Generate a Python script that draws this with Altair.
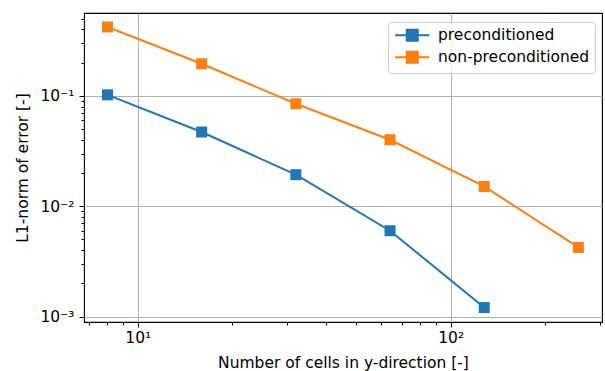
import altair as alt
import pandas as pd

cells = [8, 16, 32, 64, 128, 256]
preconditioned = [0.102, 0.047, 0.0193, 0.0060, 0.00121, None]
non_preconditioned = [0.42, 0.195, 0.0847, 0.0400, 0.0151, 0.00424]
series_names = ["preconditioned", "non-preconditioned"]
colors = ["#1f77b4", "#ff7f0e"]

x_ticks = [7, 8, 9, 10, 20, 30, 40, 50, 60, 70, 80, 90, 100, 200, 300]
y_ticks = [0.001, 0.002, 0.003, 0.004, 0.005, 0.006, 0.007, 0.008, 0.009,
           0.01, 0.02, 0.03, 0.04, 0.05, 0.06, 0.07, 0.08, 0.09,
           0.1, 0.2, 0.3, 0.4, 0.5]

rows = []
for name, vals in zip(series_names, [preconditioned, non_preconditioned]):
    for c, v in zip(cells, vals):
        if v is not None:
            rows.append({"cells": c, "error": v, "series": name})
df = pd.DataFrame(rows)

FONT = "DejaVu Sans"
FS = 15.5
major_test = "abs(log(datum.value)/LN10 - round(log(datum.value)/LN10)) < 1e-6"

x_enc = alt.X(
    "cells:Q",
    scale=alt.Scale(type="log", domain=[6.73, 304.6], nice=False, zero=False),
    axis=alt.Axis(
        title="Number of cells in y-direction [-]",
        values=x_ticks,
        labelExpr="datum.value == 10 ? '10¹' : datum.value == 100 ? '10²' : ''",
        tickSize={"condition": {"test": major_test, "value": 5}, "value": 3},
        gridOpacity={"condition": {"test": major_test, "value": 1}, "value": 0},
        gridColor="#b0b0b0",
        gridWidth=1,
        domain=False,
        tickColor="black",
        labelFont=FONT, labelFontSize=FS, labelColor="black", labelPadding=3,
        titleFont=FONT, titleFontSize=FS, titleFontWeight="normal", titleColor="black",
        titlePadding=10,
        labelFlush=False,
    ),
)
y_enc = alt.Y(
    "error:Q",
    scale=alt.Scale(type="log", domain=[0.000895, 0.562], nice=False, zero=False),
    axis=alt.Axis(
        title="L1-norm of error [-]",
        values=y_ticks,
        labelExpr="datum.value == 0.1 ? '10⁻¹' : datum.value == 0.01 ? '10⁻²' : datum.value == 0.001 ? '10⁻³' : ''",
        tickSize={"condition": {"test": major_test, "value": 5}, "value": 3},
        gridOpacity={"condition": {"test": major_test, "value": 1}, "value": 0},
        gridColor="#b0b0b0",
        gridWidth=1,
        domain=False,
        tickColor="black",
        labelFont=FONT, labelFontSize=FS, labelColor="black", labelPadding=5,
        titleFont=FONT, titleFontSize=FS, titleFontWeight="normal", titleColor="black",
        titlePadding=9,
        labelFlush=False,
    ),
)

color_enc = alt.Color(
    "series:N",
    scale=alt.Scale(domain=series_names, range=colors),
    legend=alt.Legend(
        title=None,
        orient="none",
        legendX=304,
        legendY=9,
        symbolType="M-3.1,0L3.1,0M-1,-1L1,-1L1,1L-1,1Z",
        symbolSize=121,
        symbolStrokeWidth=2,
        symbolOpacity=1,
        symbolOffset=11,
        labelFont=FONT, labelFontSize=FS, labelColor="black",
        labelOffset=18,
        rowPadding=2,
        padding=5.5,
        fillColor="rgba(255,255,255,0.8)",
        strokeColor="#cccccc",
        cornerRadius=3,
    ),
    sort=series_names,
)

base = alt.Chart(df).encode(x=x_enc, y=y_enc, color=color_enc, detail="series:N")
lines = base.mark_line(strokeWidth=2, clip=True)
points = base.mark_point(shape="square", filled=True, size=121, opacity=1, clip=True)

chart = alt.layer(lines, points).properties(
    width=518,
    height=309,
    autosize=alt.AutoSizeParams(type="none"),
    padding={"left": 84, "top": 13, "right": 3, "bottom": 49},
    background="white",
).configure_view(stroke="black", strokeWidth=1.1)

chart.save("out.html", embed_options={"renderer": "svg", "actions": False})
